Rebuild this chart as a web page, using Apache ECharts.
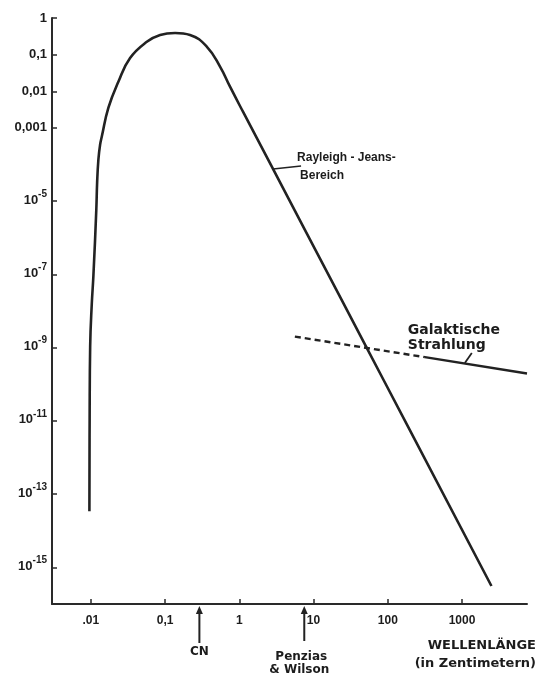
<!DOCTYPE html>
<html><head><meta charset="utf-8">
<script src="https://cdn.jsdelivr.net/npm/echarts@6/dist/echarts.min.js"></script>
<style>html,body{margin:0;padding:0;background:#fff}#c{width:539px;height:675px}</style>
</head><body><div id="c"></div>
<script>
// Planck curve (T ≈ 2.7 K), wavelength in cm, relative intensity
const wavelength = [0.00957, 0.00964, 0.0098, 0.0103, 0.01083, 0.01186, 0.01216, 0.01265, 0.01334, 0.01406, 0.01726, 0.0235, 0.0338, 0.0568, 0.0857, 0.1365, 0.217, 0.364, 0.55, 0.75, 1.13, 2.59, 25.1, 86.7, 2490];
const intensity  = [3.4e-14, 1.15e-11, 1.1e-9, 1.55e-8, 9e-8, 6e-6, 3.2e-5, 1.37e-4, 3.5e-4, 5.8e-4, 3.55e-3, 0.0182, 0.081, 0.224, 0.345, 0.39, 0.345, 0.166, 0.0473, 0.0133, 2.68e-3, 1.09e-4, 1.66e-8, 1.37e-10, 3.1e-16];
// Galactic radiation
const galDashedWavelength = [5.6, 316];
const galDashedIntensity  = [2.0e-9, 5.5e-10];
const galSolidWavelength  = [316, 7500];
const galSolidIntensity   = [5.5e-10, 1.97e-10];
// Axis ticks
const xTickValues = [0.01, 0.1, 1, 10, 100, 1000];
const xTickLabels = ['.01', '0,1', '1', '10', '100', '1000'];
const yTickValues = [1, 0.1, 0.01, 0.001, 1e-5, 1e-7, 1e-9, 1e-11, 1e-13, 1e-15];
const yTickLabels = ['1', '0,1', '0,01', '0,001', '10^-5', '10^-7', '10^-9', '10^-11', '10^-13', '10^-15'];
// Markers below the axis
const markerNames = ['CN', 'Penzias', '& Wilson'];
const markerWavelengths = [0.29, 7.5];
// Annotation texts
const rjTexts = ['Rayleigh - Jeans-', 'Bereich'];
const rjAnchor = [2.85, 7.55e-5];
const galTexts = ['Galaktische', 'Strahlung'];
const galAnchor = [1090, 3.8e-10];
const axisTitle = ['WELLENLÄNGE', '(in Zentimetern)'];

const FONT = '"Liberation Sans", Arial, sans-serif';
const FONT2 = '"DejaVu Sans", sans-serif';
const INK = '#1c1c1c';

function zip(a, b) { return a.map((v, i) => [v, b[i]]); }
function nearestIdx(vals, v) {
  let best = 0, bd = Infinity;
  vals.forEach((t, i) => { const d = Math.abs(Math.log10(t) - Math.log10(v)); if (d < bd) { bd = d; best = i; } });
  return best;
}

const chart = echarts.init(document.getElementById('c'), null, {renderer: 'canvas'});
const option = {
  backgroundColor: '#ffffff',
  animation: false,
  grid: {left: 52, right: 12, top: 18, bottom: 71, containLabel: false},
  xAxis: {
    type: 'log', logBase: 10, min: 0.003, max: 7500,
    axisLine: {show: true, lineStyle: {color: '#2a2a2a', width: 2}},
    axisTick: {show: true, inside: true, length: 5, customValues: xTickValues, lineStyle: {color: '#2a2a2a', width: 1.5}},
    splitLine: {show: false},
    minorTick: {show: false},
    axisLabel: {
      customValues: xTickValues, margin: 11,
      fontFamily: FONT, fontWeight: 'bold', fontSize: 12, color: INK,
      formatter: v => xTickLabels[nearestIdx(xTickValues, v)]
    }
  },
  yAxis: {
    type: 'log', logBase: 10, min: 1e-16, max: 1,
    axisLine: {show: true, lineStyle: {color: '#2a2a2a', width: 2}},
    axisTick: {show: true, inside: true, length: 5, customValues: yTickValues, lineStyle: {color: '#2a2a2a', width: 1.5}},
    splitLine: {show: false},
    minorTick: {show: false},
    axisLabel: {
      customValues: yTickValues, margin: 5,
      fontFamily: FONT, fontWeight: 'bold', fontSize: 13, color: INK,
      formatter: v => {
        const s = yTickLabels[nearestIdx(yTickValues, v)];
        if (s.indexOf('^') >= 0) {
          const p = s.split('^');
          return '{b|' + p[0] + '}{e|' + p[1] + '}';
        }
        return s;
      },
      rich: {
        b: {fontFamily: FONT, fontWeight: 'bold', fontSize: 13, color: INK, height: 14, lineHeight: 24, padding: [0, 0, 6, 0], verticalAlign: 'bottom'},
        e: {fontFamily: FONT, fontWeight: 'bold', fontSize: 10, color: INK, height: 10, lineHeight: 24, verticalAlign: 'top'}
      }
    }
  },
  series: [
    {type: 'line', name: 'Planck', data: zip(wavelength, intensity), showSymbol: false, symbol: 'none', smooth: 0.45,
     lineStyle: {color: '#222', width: 2.6}},
    {type: 'line', name: 'GalDashed', data: zip(galDashedWavelength, galDashedIntensity), showSymbol: false, symbol: 'none',
     lineStyle: {color: '#222', width: 2.4, type: [6, 4]}},
    {type: 'line', name: 'GalSolid', data: zip(galSolidWavelength, galSolidIntensity), showSymbol: false, symbol: 'none',
     lineStyle: {color: '#222', width: 2.4}}
  ]
};
chart.setOption(option);

function px(pt) { return chart.convertToPixel({gridIndex: 0}, pt); }
function txt(x, y, text, size, align, fam) {
  return {type: 'text', x: x, y: y, z: 10, silent: true,
    style: {text: text, font: 'bold ' + size + 'px ' + (fam || FONT), fill: INK,
      textAlign: align, align: align, textVerticalAlign: 'middle', verticalAlign: 'middle'}};
}
function arrowEls(x, y0, y1) {
  return [
    {type: 'line', z: 10, silent: true, shape: {x1: x, y1: y0 + 5, x2: x, y2: y1}, style: {stroke: '#222', lineWidth: 2}},
    {type: 'polygon', z: 10, silent: true, shape: {points: [[x, y0], [x - 3.5, y0 + 8], [x + 3.5, y0 + 8]]}, style: {fill: '#222'}}
  ];
}

const g = [];
const axisY = px([1, 1e-16])[1];
const cnX = px([markerWavelengths[0], 1e-16])[0];
const pwX = px([markerWavelengths[1], 1e-16])[0];
g.push(...arrowEls(cnX, axisY + 2, axisY + 39));
g.push(...arrowEls(pwX, axisY + 2, axisY + 37));
g.push(txt(cnX, axisY + 48, markerNames[0], 12, 'center', FONT2));
g.push(txt(pwX - 3, axisY + 53, markerNames[1], 12, 'center', FONT2));
g.push(txt(pwX - 5, axisY + 66, markerNames[2], 12, 'center', FONT2));

// Rayleigh-Jeans pointer
const rj = px(rjAnchor);
const rjEnd = [rj[0] + 28, rj[1] - 3];
g.push({type: 'line', z: 10, silent: true, shape: {x1: rj[0], y1: rj[1], x2: rjEnd[0], y2: rjEnd[1]}, style: {stroke: '#222', lineWidth: 1.5}});
g.push(txt(rjEnd[0] - 4, rjEnd[1] - 8.5, rjTexts[0], 12, 'left'));
g.push(txt(rjEnd[0] - 1, rjEnd[1] + 10, rjTexts[1], 12, 'left'));

// Galactic pointer
const ga = px(galAnchor);
const gaEnd = [ga[0] + 7, ga[1] - 10];
g.push({type: 'line', z: 10, silent: true, shape: {x1: ga[0], y1: ga[1], x2: gaEnd[0], y2: gaEnd[1]}, style: {stroke: '#222', lineWidth: 1.8}});
g.push(txt(gaEnd[0] - 64, gaEnd[1] - 23, galTexts[0], 14, 'left', FONT2));
g.push(txt(gaEnd[0] - 64, gaEnd[1] - 8, galTexts[1], 14, 'left', FONT2));

// Axis title
const rightX = px([7500, 1e-16])[0];
g.push(txt(rightX + 9, axisY + 42, axisTitle[0], 13, 'right', FONT2));
g.push(txt(rightX + 9, axisY + 60, axisTitle[1], 13, 'right', FONT2));

chart.setOption({graphic: {elements: g}});
</script>
</body></html>
